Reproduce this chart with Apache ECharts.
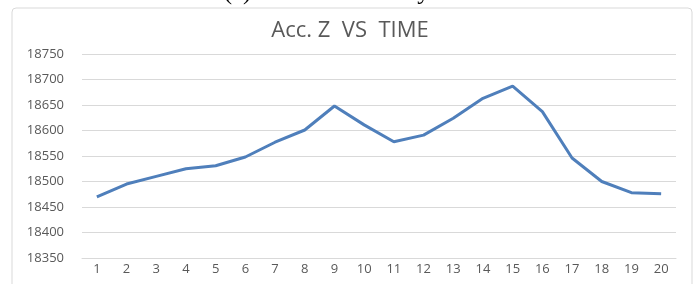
<!DOCTYPE html>
<html>
<head>
<meta charset="utf-8">
<script src="https://cdn.jsdelivr.net/npm/echarts@6/dist/echarts.min.js"></script>
<style>
  html, body { margin: 0; padding: 0; background: #fff; }
  #chart { width: 700px; height: 284px; }
</style>
</head>
<body>
<div id="chart"></div>
<script>
// time steps
const timeSteps = ['1','2','3','4','5','6','7','8','9','10','11','12','13','14','15','16','17','18','19','20'];
// Acc. Z readings
const accZ = [18470, 18495, 18510, 18525, 18531, 18548, 18577, 18601, 18648, 18611,
              18578, 18591, 18624, 18663, 18687, 18637, 18546, 18500, 18478, 18476];
const yMin = 18350;
const yMax = 18750;
const yStep = 50;

const myChart = echarts.init(document.getElementById('chart'));
myChart.setOption({
  animation: false,
  title: {
    text: 'Acc. Z  VS  TIME',
    left: 'center',
    top: 15,
    textStyle: {
      fontFamily: 'Open Sans',
      fontSize: 22,
      fontWeight: 'normal',
      color: '#595959'
    }
  },
  graphic: [
    {
      type: 'rect',
      shape: { x: 12, y: 8, width: 680, height: 290, r: 4 },
      style: { fill: 'none', stroke: '#d9d9d9', lineWidth: 1 },
      z: -1
    },
    {
      // caption above the chart, mostly cut off
      type: 'text',
      left: 'center',
      top: -20,
      style: {
        text: '(c) Acceleration in y axis',
        font: '25px "Liberation Serif"',
        fill: '#000'
      }
    }
  ],
  grid: {
    left: 82,
    right: 24,
    top: 54,
    bottom: 26
  },
  xAxis: {
    type: 'category',
    data: timeSteps,
    boundaryGap: true,
    axisLine: { show: true, lineStyle: { color: '#d9d9d9' } },
    axisTick: { show: false },
    axisLabel: {
      color: '#595959',
      fontFamily: 'Open Sans',
      fontSize: 13,
      margin: 5
    }
  },
  yAxis: {
    type: 'value',
    min: yMin,
    max: yMax,
    interval: yStep,
    axisLine: { show: false },
    axisTick: { show: false },
    axisLabel: {
      color: '#595959',
      fontFamily: 'Open Sans',
      fontSize: 13,
      margin: 18,
      formatter: (v) => String(v)
    },
    splitLine: { lineStyle: { color: '#d9d9d9', width: 1 } }
  },
  series: [
    {
      name: 'Acc. Z',
      type: 'line',
      data: accZ,
      symbol: 'none',
      lineStyle: { color: '#4f7fbb', width: 3 }
    }
  ]
});
</script>
</body>
</html>
